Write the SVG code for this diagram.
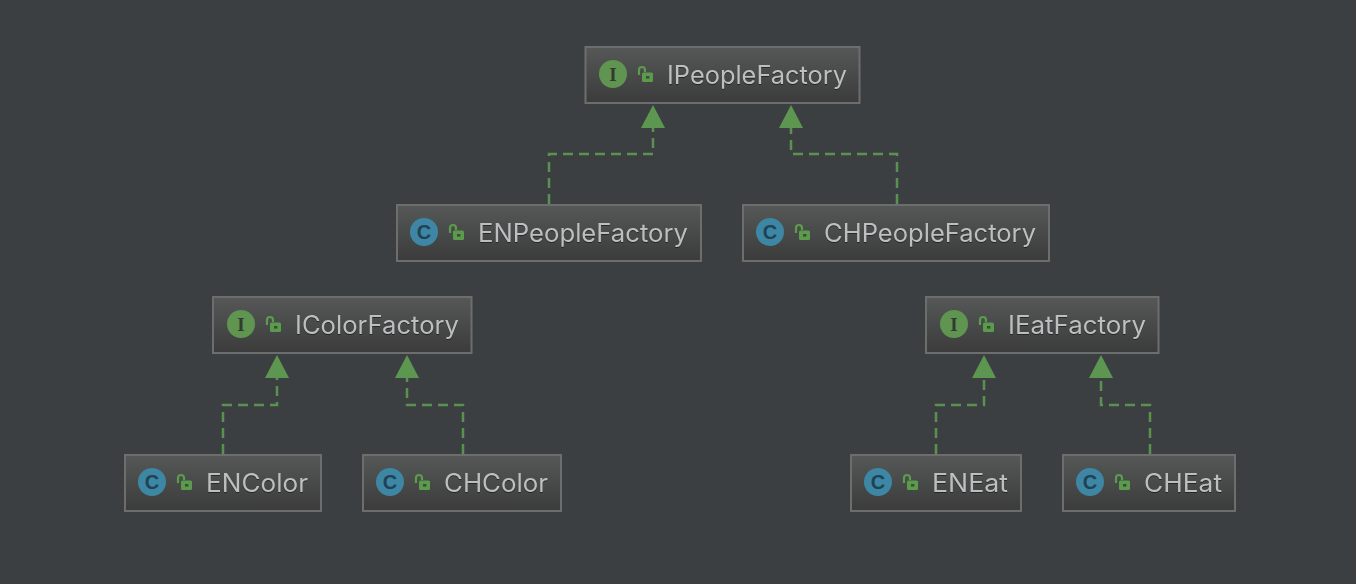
<svg xmlns="http://www.w3.org/2000/svg" xmlns:xlink="http://www.w3.org/1999/xlink" width="1356" height="584" viewBox="0 0 1356 584">
<style>
.box{fill:url(#g);stroke:#6c6e6e;stroke-width:2}
.t{font-family:"Inter","Liberation Sans",sans-serif;font-size:25px;fill:#bcbebf;filter:drop-shadow(0 1px 0 rgba(0,0,0,.45))}
.c{fill:none;stroke:#5a9150;stroke-width:2.5;stroke-dasharray:10 6}
.a{fill:#5d9650}
.ci{font-family:"Liberation Serif",serif;font-weight:bold;font-size:19px;text-anchor:middle}
.cc{font-family:"Liberation Sans",sans-serif;font-weight:bold;font-size:20px;text-anchor:middle}
</style>
<defs>
<linearGradient id="g" x1="0" y1="0" x2="0" y2="1"><stop offset="0" stop-color="#565757"/><stop offset="1" stop-color="#3b3b3b"/></linearGradient>
<g id="lock"><path d="M2 9V4a3 3 0 0 1 6 0V6" fill="none" stroke="#5b9c4c" stroke-width="2.2"/><rect x="5" y="6.500" width="11" height="9.500" rx="1.500" fill="#5b9c4c"/><rect x="9" y="10" width="3.400" height="2.600" fill="#3f4a3c"/></g>
<g id="iI"><circle r="14" fill="#5f9550"/><text class="ci" y="6.500" fill="#333b30">I</text></g>
<g id="iC"><circle r="14" fill="#3e87a4"/><text class="cc" y="7" fill="#1f4256">C</text></g>
</defs>
<rect width="1356" height="584" fill="#3c3f41"/>
<g id="connectors">
<path class="c" d="M549 204V154H653V128"/><path class="a" d="M653 105l12 23h-24z"/>
<path class="c" d="M897 204V154H791V128"/><path class="a" d="M791 105l12 23h-24z"/>
<path class="c" d="M223 454V405H277V378"/><path class="a" d="M277 355l12 23h-24z"/>
<path class="c" d="M463 454V405H407V378"/><path class="a" d="M407 355l12 23h-24z"/>
<path class="c" d="M936 454V405H984V378"/><path class="a" d="M984 355l12 23h-24z"/>
<path class="c" d="M1150 454V405H1101V378"/><path class="a" d="M1101 355l12 23h-24z"/>
</g>
<g id="IPeopleFactory"><rect class="box" x="585.500" y="47" width="274" height="56"/><use href="#iI" x="613" y="74"/><use href="#lock" x="637" y="66"/><text class="t" x="667" y="84" textLength="180" lengthAdjust="spacingAndGlyphs">IPeopleFactory</text></g>
<g id="ENPeopleFactory"><rect class="box" x="397" y="205" width="304" height="56"/><use href="#iC" x="424" y="232"/><use href="#lock" x="448" y="224"/><text class="t" x="478" y="242" textLength="210" lengthAdjust="spacingAndGlyphs">ENPeopleFactory</text></g>
<g id="CHPeopleFactory"><rect class="box" x="743" y="205" width="306" height="56"/><use href="#iC" x="770" y="232"/><use href="#lock" x="794" y="224"/><text class="t" x="824" y="242" textLength="212" lengthAdjust="spacingAndGlyphs">CHPeopleFactory</text></g>
<g id="IColorFactory"><rect class="box" x="213" y="297" width="258.500" height="56"/><use href="#iI" x="241" y="324"/><use href="#lock" x="265" y="316"/><text class="t" x="295" y="334" textLength="164" lengthAdjust="spacingAndGlyphs">IColorFactory</text></g>
<g id="IEatFactory"><rect class="box" x="926" y="297" width="232.500" height="56"/><use href="#iI" x="954" y="324"/><use href="#lock" x="978" y="316"/><text class="t" x="1008" y="334" textLength="138" lengthAdjust="spacingAndGlyphs">IEatFactory</text></g>
<g id="ENColor"><rect class="box" x="125" y="455" width="196" height="56"/><use href="#iC" x="152" y="482"/><use href="#lock" x="176" y="474"/><text class="t" x="206" y="492" textLength="102" lengthAdjust="spacingAndGlyphs">ENColor</text></g>
<g id="CHColor"><rect class="box" x="363" y="455" width="198" height="56"/><use href="#iC" x="390" y="482"/><use href="#lock" x="414" y="474"/><text class="t" x="444" y="492" textLength="104" lengthAdjust="spacingAndGlyphs">CHColor</text></g>
<g id="ENEat"><rect class="box" x="851" y="455" width="170" height="56"/><use href="#iC" x="878" y="482"/><use href="#lock" x="902" y="474"/><text class="t" x="932" y="492" textLength="76" lengthAdjust="spacingAndGlyphs">ENEat</text></g>
<g id="CHEat"><rect class="box" x="1063" y="455" width="172" height="56"/><use href="#iC" x="1090" y="482"/><use href="#lock" x="1114" y="474"/><text class="t" x="1144" y="492" textLength="78" lengthAdjust="spacingAndGlyphs">CHEat</text></g>
</svg>
